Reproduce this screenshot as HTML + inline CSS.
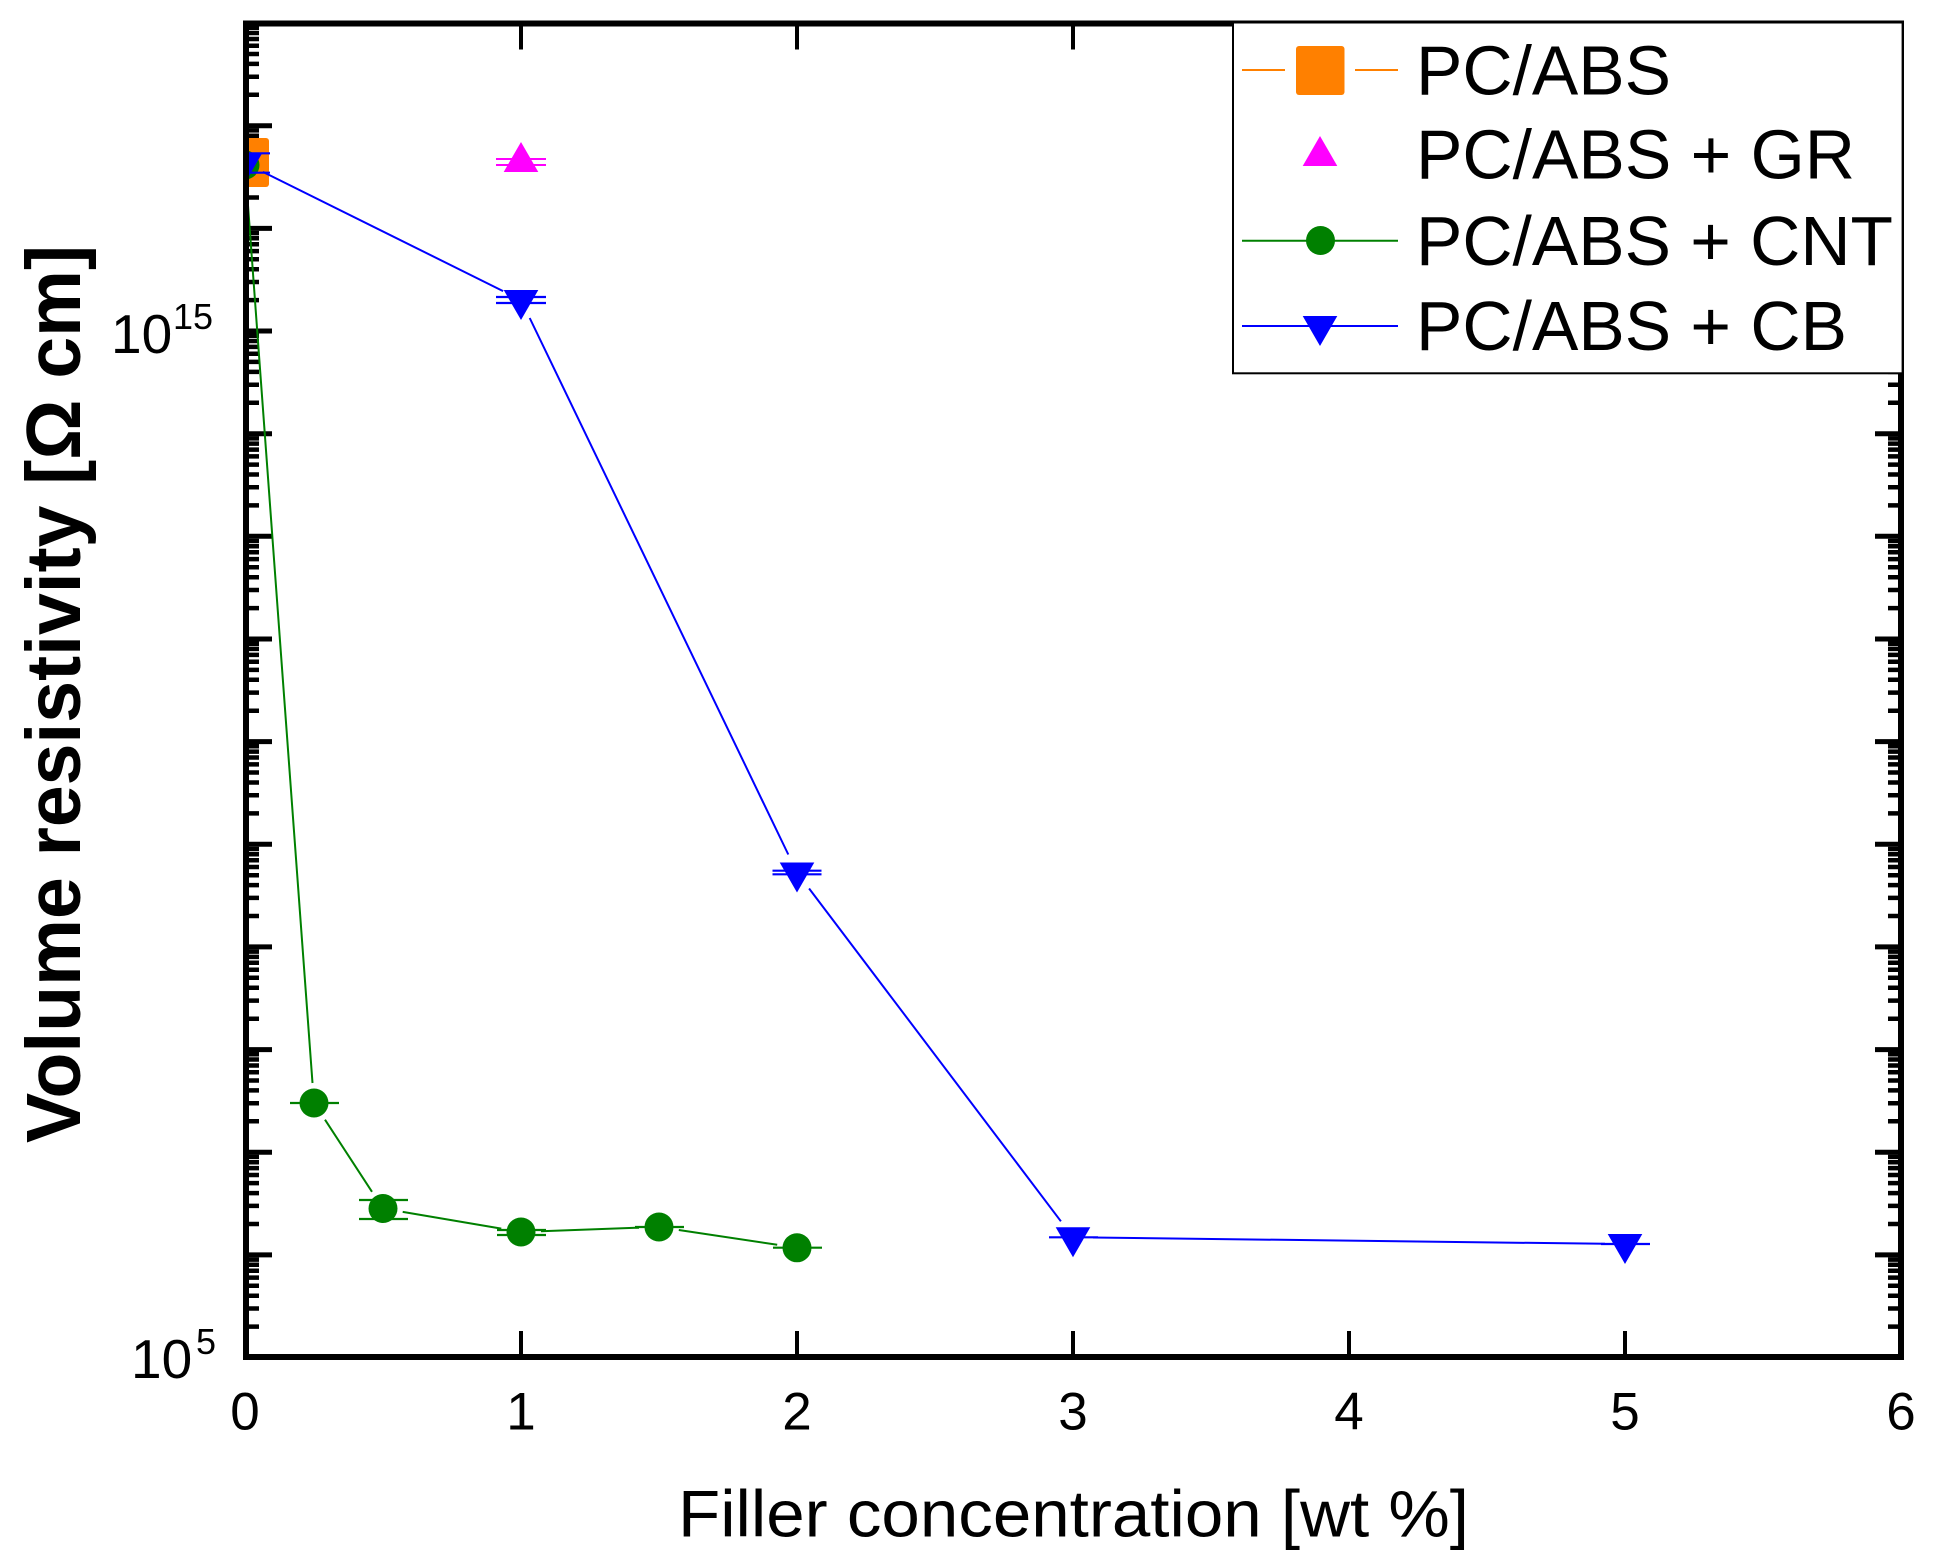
<!DOCTYPE html>
<html>
<head>
<meta charset="utf-8">
<style>
  html, body { margin: 0; padding: 0; background: #ffffff; }
  svg { display: block; }
  text { font-family: "Liberation Sans", Arial, sans-serif; fill: #000; }
</style>
</head>
<body>
<svg width="1938" height="1565" viewBox="0 0 1938 1565" xmlns="http://www.w3.org/2000/svg">
  <rect x="0" y="0" width="1938" height="1565" fill="#ffffff"/>
  <defs>
    <clipPath id="plotclip">
      <rect x="249" y="26.5" width="1649" height="1327.5"/>
    </clipPath>
  </defs>

  <!-- Y minor ticks left -->
  <path stroke="#000" stroke-width="4.5" fill="none" d="
M246 1326.6h13M246 1308.5h13M246 1295.7h13M246 1285.8h13M246 1277.6h13M246 1270.8h13M246 1264.8h13M246 1259.6h13
M246 1224h13M246 1205.9h13M246 1193.1h13M246 1183.1h13M246 1175h13M246 1168.1h13M246 1162.2h13M246 1156.9h13
M246 1121.3h13M246 1103.2h13M246 1090.4h13M246 1080.5h13M246 1072.3h13M246 1065.5h13M246 1059.5h13M246 1054.3h13
M246 1018.7h13M246 1000.6h13M246 987.8h13M246 977.8h13M246 969.7h13M246 962.8h13M246 956.9h13M246 951.6h13
M246 916h13M246 897.9h13M246 885.1h13M246 875.2h13M246 867h13M246 860.2h13M246 854.2h13M246 849h13
M246 813.4h13M246 795.3h13M246 782.5h13M246 772.5h13M246 764.4h13M246 757.5h13M246 751.6h13M246 746.3h13
M246 710.7h13M246 692.6h13M246 679.8h13M246 669.9h13M246 661.7h13M246 654.9h13M246 648.9h13M246 643.7h13
M246 608.1h13M246 590h13M246 577.2h13M246 567.2h13M246 559.1h13M246 552.2h13M246 546.3h13M246 541h13
M246 505.4h13M246 487.3h13M246 474.5h13M246 464.6h13M246 456.4h13M246 449.6h13M246 443.6h13M246 438.4h13
M246 402.8h13M246 384.7h13M246 371.9h13M246 361.9h13M246 353.8h13M246 346.9h13M246 341h13M246 335.7h13
M246 300.1h13M246 282h13M246 269.2h13M246 259.3h13M246 251.1h13M246 244.3h13M246 238.3h13M246 233.1h13
M246 197.5h13M246 179.4h13M246 166.6h13M246 156.6h13M246 148.5h13M246 141.6h13M246 135.7h13M246 130.4h13
M246 94.8h13M246 76.7h13M246 63.9h13M246 54h13M246 45.8h13M246 39h13M246 33h13M246 27.8h13
"/>
  <!-- Y minor ticks right -->
  <path stroke="#000" stroke-width="4.5" fill="none" d="
M1901 1326.6h-13M1901 1308.5h-13M1901 1295.7h-13M1901 1285.8h-13M1901 1277.6h-13M1901 1270.8h-13M1901 1264.8h-13M1901 1259.6h-13
M1901 1224h-13M1901 1205.9h-13M1901 1193.1h-13M1901 1183.1h-13M1901 1175h-13M1901 1168.1h-13M1901 1162.2h-13M1901 1156.9h-13
M1901 1121.3h-13M1901 1103.2h-13M1901 1090.4h-13M1901 1080.5h-13M1901 1072.3h-13M1901 1065.5h-13M1901 1059.5h-13M1901 1054.3h-13
M1901 1018.7h-13M1901 1000.6h-13M1901 987.8h-13M1901 977.8h-13M1901 969.7h-13M1901 962.8h-13M1901 956.9h-13M1901 951.6h-13
M1901 916h-13M1901 897.9h-13M1901 885.1h-13M1901 875.2h-13M1901 867h-13M1901 860.2h-13M1901 854.2h-13M1901 849h-13
M1901 813.4h-13M1901 795.3h-13M1901 782.5h-13M1901 772.5h-13M1901 764.4h-13M1901 757.5h-13M1901 751.6h-13M1901 746.3h-13
M1901 710.7h-13M1901 692.6h-13M1901 679.8h-13M1901 669.9h-13M1901 661.7h-13M1901 654.9h-13M1901 648.9h-13M1901 643.7h-13
M1901 608.1h-13M1901 590h-13M1901 577.2h-13M1901 567.2h-13M1901 559.1h-13M1901 552.2h-13M1901 546.3h-13M1901 541h-13
M1901 505.4h-13M1901 487.3h-13M1901 474.5h-13M1901 464.6h-13M1901 456.4h-13M1901 449.6h-13M1901 443.6h-13M1901 438.4h-13
M1901 402.8h-13M1901 384.7h-13M1901 371.9h-13M1901 361.9h-13M1901 353.8h-13M1901 346.9h-13M1901 341h-13M1901 335.7h-13
M1901 300.1h-13M1901 282h-13M1901 269.2h-13M1901 259.3h-13M1901 251.1h-13M1901 244.3h-13M1901 238.3h-13M1901 233.1h-13
M1901 197.5h-13M1901 179.4h-13M1901 166.6h-13M1901 156.6h-13M1901 148.5h-13M1901 141.6h-13M1901 135.7h-13M1901 130.4h-13
M1901 94.8h-13M1901 76.7h-13M1901 63.9h-13M1901 54h-13M1901 45.8h-13M1901 39h-13M1901 33h-13M1901 27.8h-13
"/>
  <!-- Y major ticks -->
  <path stroke="#000" stroke-width="5" fill="none" d="
M246 1254.9h26M246 1152.2h26M246 1049.6h26M246 946.9h26M246 844.3h26M246 741.6h26M246 639h26M246 536.3h26M246 433.7h26M246 331h26M246 228.4h26M246 125.7h26
M1901 1254.9h-26M1901 1152.2h-26M1901 1049.6h-26M1901 946.9h-26M1901 844.3h-26M1901 741.6h-26M1901 639h-26M1901 536.3h-26M1901 433.7h-26M1901 331h-26M1901 228.4h-26M1901 125.7h-26
"/>
  <!-- X major ticks -->
  <path stroke="#000" stroke-width="4" fill="none" d="
M521 1357v-26M797 1357v-26M1073 1357v-26M1349 1357v-26M1625 1357v-26
M521 23.5v26M797 23.5v26M1073 23.5v26M1349 23.5v26M1625 23.5v26
"/>

  <!-- Frame -->
  <rect x="246" y="23.5" width="1655" height="1333.5" fill="none" stroke="#000" stroke-width="6"/>

  <!-- Data -->
  <g clip-path="url(#plotclip)">
    <!-- PC/ABS orange -->
    <rect x="221" y="138" width="48" height="49" rx="3" ry="3" fill="#FF8000"/>

    <!-- PC/ABS + GR magenta -->
    <path stroke="#FF00FF" stroke-width="2" fill="none" d="M496 159H546M496 165H546"/>
    <polygon points="503.7,172 538.3,172 521,142" fill="#FF00FF"/>

    <!-- PC/ABS + CNT green -->
    <path stroke="#008000" stroke-width="2" fill="none" d="
M246.5 185L312.5 1083
M325 1119.7L372 1191.8
M402.7 1211.9L501.3 1228.6
M541 1231.3L639 1227.7
M678.8 1230L777.2 1244.8"/>
    <path stroke="#008000" stroke-width="2.2" fill="none" d="
M290 1103H339
M359 1200H408M359 1219H408
M497 1230H546M497 1235H546
M635 1227H684
M773 1247.7H822"/>
    <g fill="#008000">
      <circle cx="245" cy="165" r="14.5"/>
      <circle cx="314" cy="1103" r="14.5"/>
      <circle cx="383" cy="1208.5" r="14.5"/>
      <circle cx="521" cy="1232" r="14.5"/>
      <circle cx="659" cy="1227" r="14.5"/>
      <circle cx="797" cy="1247.8" r="14.5"/>
    </g>

    <!-- PC/ABS + CB blue -->
    <path stroke="#0000FF" stroke-width="2" fill="none" d="
M262.9 171.9L503.1 291.1
M529.7 318L788.3 854.5
M809.1 888.5L1060.9 1221.3
M1093 1237.5L1605 1243.8"/>
    <g fill="#0000FF">
      <polygon points="227.7,153 262.3,153 245,183"/>
      <polygon points="503.7,290 538.3,290 521,320"/>
      <polygon points="779.7,862.5 814.3,862.5 797,892.5"/>
      <polygon points="1055.7,1227.3 1090.3,1227.3 1073,1257.3"/>
      <polygon points="1607.7,1234 1642.3,1234 1625,1264"/>
    </g>
    <path stroke="#0000FF" stroke-width="2.2" fill="none" d="
M221 153.3H270M221 172.7H270
M496 297H546M496 303H546
M772.5 870.7H821.5M772.5 874.3H821.5
M1049 1237.3H1098
M1601 1244H1650"/>
  </g>

  <!-- Tick labels X -->
  <g font-size="53" text-anchor="middle">
    <text x="245" y="1429.5">0</text>
    <text x="521" y="1429.5">1</text>
    <text x="797" y="1429.5">2</text>
    <text x="1073" y="1429.5">3</text>
    <text x="1349" y="1429.5">4</text>
    <text x="1625" y="1429.5">5</text>
    <text x="1901" y="1429.5">6</text>
  </g>

  <!-- Tick labels Y -->
  <text x="111" y="353" font-size="55">10</text>
  <text x="173" y="329" font-size="36">15</text>
  <text x="131" y="1378" font-size="55">10</text>
  <text x="196" y="1354" font-size="36">5</text>

  <!-- Axis titles -->
  <text x="678" y="1536.7" font-size="66" textLength="791" lengthAdjust="spacingAndGlyphs">Filler concentration [wt %]</text>
  <text transform="translate(80,1143) rotate(-90)" font-size="77" font-weight="bold" textLength="898" lengthAdjust="spacingAndGlyphs">Volume resistivity [Ω cm]</text>

  <!-- Legend -->
  <rect x="1233" y="22.5" width="669.6" height="350.8" fill="#ffffff" stroke="#000" stroke-width="2"/>
  <path stroke="#FF8000" stroke-width="2" fill="none" d="M1242 70H1285M1355 70H1398"/>
  <rect x="1296" y="46" width="48.5" height="49" rx="3" ry="3" fill="#FF8000"/>
  <polygon points="1302.7,166 1337.3,166 1320,136" fill="#FF00FF"/>
  <path stroke="#008000" stroke-width="2" fill="none" d="M1242 240.7H1398"/>
  <circle cx="1320.5" cy="240.5" r="14.5" fill="#008000"/>
  <path stroke="#0000FF" stroke-width="2" fill="none" d="M1242 326H1398"/>
  <polygon points="1302.7,316 1337.3,316 1320,346" fill="#0000FF"/>

  <g font-size="69.5">
    <text x="1416" y="94.5" textLength="255" lengthAdjust="spacingAndGlyphs">PC/ABS</text>
    <text x="1416" y="178.5" textLength="439" lengthAdjust="spacingAndGlyphs">PC/ABS + GR</text>
    <text x="1416" y="265" textLength="477" lengthAdjust="spacingAndGlyphs">PC/ABS + CNT</text>
    <text x="1416" y="350" textLength="431" lengthAdjust="spacingAndGlyphs">PC/ABS + CB</text>
  </g>
</svg>
</body>
</html>
